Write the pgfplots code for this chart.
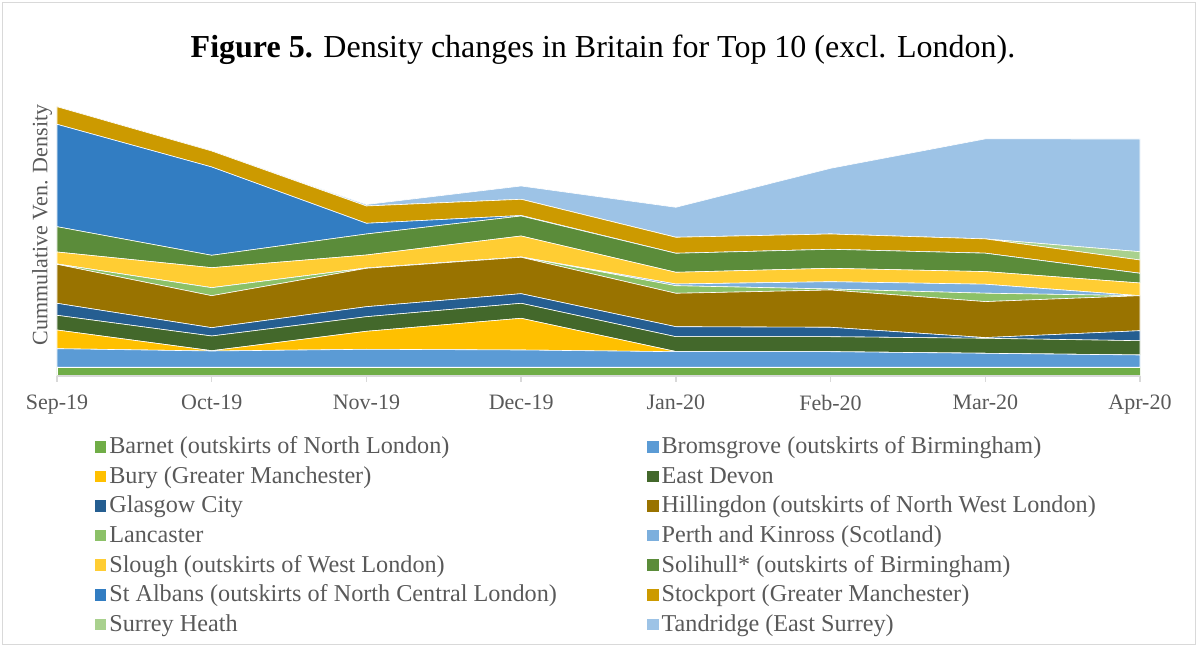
\documentclass[border=0pt]{standalone}
\usepackage{fontspec}
\setmainfont{Liberation Serif}
\usepackage{pgfplots}
\pgfplotsset{compat=1.18}
\usepackage{pgfplotstable}
\definecolor{cBarnet}{HTML}{70AD47}
\definecolor{cBrom}{HTML}{5B9BD5}
\definecolor{cBury}{HTML}{FFC000}
\definecolor{cEDevon}{HTML}{43682B}
\definecolor{cGlasgow}{HTML}{255E91}
\definecolor{cHill}{HTML}{997300}
\definecolor{cLanc}{HTML}{8CC168}
\definecolor{cPerth}{HTML}{7CAFDD}
\definecolor{cSlough}{HTML}{FFCD33}
\definecolor{cSoli}{HTML}{5B8C3A}
\definecolor{cStAlb}{HTML}{327DC2}
\definecolor{cStock}{HTML}{CC9A00}
\definecolor{cSurrey}{HTML}{A9D18E}
\definecolor{cTand}{HTML}{9DC3E6}
\definecolor{txt}{HTML}{595959}
\definecolor{frame}{HTML}{D9D9D9}
\pgfplotstableread{
x Barnet Brom Bury EDevon Glasgow Hill Lanc Perth Slough Soli StAlb Stock Surrey Tand
0 8.7 18.6 18.7 14.7 12.0 39.0 0.3 0.0 12.0 25.3 102.4 17.6 0.0 0.0
1 8.7 16.3 0.3 14.7 8.3 32.0 8.0 0.0 20.0 12.4 88.3 16.0 0.0 0.0
2 8.7 18.0 18.0 14.6 10.0 38.4 0.3 0.0 13.0 21.0 10.7 17.3 0.0 1.5
3 8.7 17.3 31.7 15.0 9.6 36.4 0.3 0.0 21.0 20.0 0.5 16.2 0.0 13.3
4 8.7 15.6 0.2 14.8 10.0 33.4 7.6 1.7 11.7 19.0 0.0 16.0 0.0 30.0
5 8.7 15.6 0.0 15.0 9.4 37.3 1.0 7.3 13.4 19.0 0.0 15.3 0.0 65.7
6 8.7 14.0 0.0 15.0 0.7 36.0 8.4 9.0 12.6 18.4 0.0 14.3 0.0 100.0
7 8.7 12.3 0.0 14.3 10.0 35.0 0.0 0.0 12.7 9.7 0.0 13.3 8.3 112.7
}\densdata
\begin{document}
\begin{tikzpicture}
\useasboundingbox (-28.5pt,-135pt) rectangle (570pt,188pt);
\draw[frame, line width=0.75pt] (-27.25pt,-134.25pt) rectangle (569.25pt,186.75pt);
\begin{axis}[
  at={(0pt,0pt)}, anchor=south west,
  scale only axis, width=541.5pt, height=140pt,
  xmin=0, xmax=7, ymin=0, ymax=280,
  stack plots=y,
  axis on top,
  axis x line*=bottom, hide y axis,
  x axis line style={draw=frame, line width=0.75pt},
  xtick={0,...,7},
  xticklabels={Sep-19,Oct-19,Nov-19,Dec-19,Jan-20,Feb-20,Mar-20,Apr-20},
  tick align=outside, major tick length=3pt,
  xtick style={draw=frame, line width=0.75pt},
  ticklabel style={font=\fontsize{11}{13}\selectfont, text=txt},
  xticklabel style={yshift=-3pt},
  /pgf/number format/assume math mode=true,
  legend columns=2,
  legend cell align=left,
  legend style={at={(0,0)}, anchor=north west, xshift=18.65pt, yshift=-28.5pt,
    draw=none, fill=none, inner sep=0pt,
    font=\fontsize{12.1}{14}\selectfont, text=txt,
    nodes={inner xsep=1.5pt, inner ysep=1.9pt, text height=8.2pt, text depth=2.8pt},
    /tikz/every even column/.append style={column sep=43.5pt}},
  legend image code/.code={\fill[#1,draw=none] (0pt,-2.2pt) rectangle (5.8pt,3.6pt);},
  every axis plot/.append style={draw=white, line width=0.3pt},
]
\addplot[fill=cBarnet] table[x=x,y=Barnet]{\densdata} \closedcycle;
\addlegendentry{Barnet (outskirts of North London)}
\addplot[fill=cBrom] table[x=x,y=Brom]{\densdata} \closedcycle;
\addlegendentry{Bromsgrove (outskirts of Birmingham)}
\addplot[fill=cBury] table[x=x,y=Bury]{\densdata} \closedcycle;
\addlegendentry{Bury (Greater Manchester)}
\addplot[fill=cEDevon] table[x=x,y=EDevon]{\densdata} \closedcycle;
\addlegendentry{East Devon}
\addplot[fill=cGlasgow] table[x=x,y=Glasgow]{\densdata} \closedcycle;
\addlegendentry{Glasgow City}
\addplot[fill=cHill] table[x=x,y=Hill]{\densdata} \closedcycle;
\addlegendentry{Hillingdon (outskirts of North West London)}
\addplot[fill=cLanc] table[x=x,y=Lanc]{\densdata} \closedcycle;
\addlegendentry{Lancaster}
\addplot[fill=cPerth] table[x=x,y=Perth]{\densdata} \closedcycle;
\addlegendentry{Perth and Kinross (Scotland)}
\addplot[fill=cSlough] table[x=x,y=Slough]{\densdata} \closedcycle;
\addlegendentry{Slough (outskirts of West London)}
\addplot[fill=cSoli] table[x=x,y=Soli]{\densdata} \closedcycle;
\addlegendentry{Solihull* (outskirts of Birmingham)}
\addplot[fill=cStAlb] table[x=x,y=StAlb]{\densdata} \closedcycle;
\addlegendentry{St Albans (outskirts of North Central London)}
\addplot[fill=cStock] table[x=x,y=Stock]{\densdata} \closedcycle;
\addlegendentry{Stockport (Greater Manchester)}
\addplot[fill=cSurrey] table[x=x,y=Surrey]{\densdata} \closedcycle;
\addlegendentry{Surrey Heath}
\addplot[fill=cTand] table[x=x,y=Tand]{\densdata} \closedcycle;
\addlegendentry{Tandridge (East Surrey)}
\end{axis}
\node[rotate=90, text=txt, font=\fontsize{11}{13}\selectfont] at (-7.5pt,75.5pt) {Cummulative Ven. Density};
\node[anchor=base, font=\fontsize{16}{19}\selectfont] at (273pt,159pt) {\textbf{Figure 5.} Density changes in Britain for Top 10 (excl. London).};
\end{tikzpicture}
\end{document}
